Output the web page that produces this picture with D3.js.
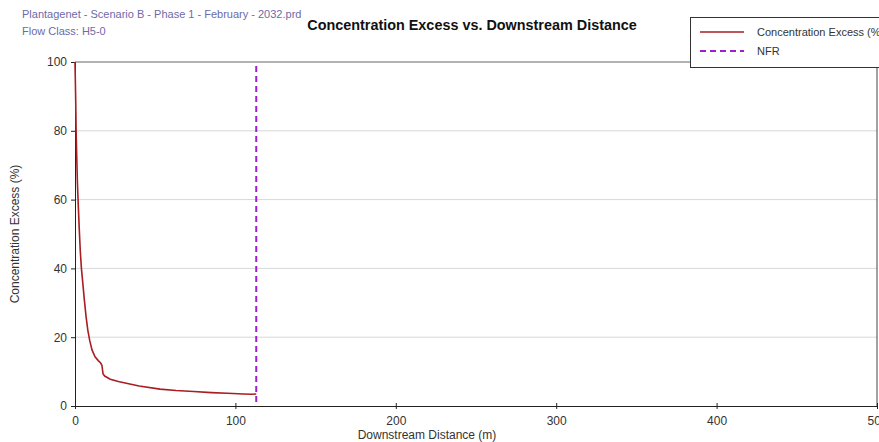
<!DOCTYPE html>
<html>
<head>
<meta charset="utf-8">
<script src="https://cdn.jsdelivr.net/npm/d3@7"></script>
<style>
  body { margin: 0; background: #fff; }
  svg { display: block; font-family: "Liberation Sans", Arial, sans-serif; }
</style>
</head>
<body>
<div id="chart"></div>
<script>
// curve: downstream distance (m) and concentration excess (%)
const distance = [0, 0.2, 0.4, 0.7, 1.0, 1.5, 1.9, 2.6, 3.3, 4.0, 4.8, 5.8, 6.9, 8.0, 9.2, 10.6,
  12.5, 14.5, 16.0, 16.8, 17.5, 18.5, 22, 27, 32, 40, 53, 63, 74, 85, 95, 105, 110, 113];
const excess = [100, 95, 90, 80, 74, 65, 60, 52, 45, 40, 36, 31, 26, 22, 19, 16.3,
  14.3, 13.2, 12.5, 11.8, 9.3, 8.7, 7.8, 7.1, 6.6, 5.8, 4.9, 4.5, 4.2, 3.9, 3.7, 3.5, 3.4, 3.5];
const nfr = 113;
const xTicks = [0, 100, 200, 300, 400, 500];
const yTicks = [0, 20, 40, 60, 80, 100];
const legendLabels = ["Concentration Excess (%)", "NFR"];

const W = 879, H = 442;
const margin = { top: 62, right: 2, bottom: 36, left: 75 };
const width = W - margin.left - margin.right,
  height = H - margin.top - margin.bottom;

const svg = d3.select("#chart").append("svg")
  .attr("width", W).attr("height", H);

const g = svg.append("g")
  .attr("transform", `translate(${margin.left},${margin.top})`);

const x = d3.scaleLinear().domain([0, 500]).range([0, width]);
const y = d3.scaleLinear().domain([0, 100]).range([height, 0]);

// grid lines
g.selectAll(".grid").data(yTicks.filter(d => d > 0 && d < 100)).enter()
  .append("line")
  .attr("x1", 0).attr("x2", width)
  .attr("y1", d => y(d)).attr("y2", d => y(d))
  .attr("stroke", "#d8d8d8");

// frame: top and right
g.append("line").attr("x1", 0).attr("x2", width).attr("y1", 0).attr("y2", 0)
  .attr("stroke", "#666");
g.append("line").attr("x1", width).attr("x2", width).attr("y1", 0).attr("y2", height)
  .attr("stroke", "#444");

// axes
const yAxis = g.append("g")
  .call(d3.axisLeft(y).tickValues(yTicks).tickSize(4).tickPadding(4));
const xAxis = g.append("g")
  .attr("transform", `translate(0,${height})`)
  .call(d3.axisBottom(x).tickValues(xTicks).tickSize(3).tickPadding(9));

[xAxis, yAxis].forEach(a => {
  a.select(".domain").attr("stroke", "#222");
  a.selectAll(".tick line").attr("stroke", "#222");
  a.selectAll(".tick text").attr("font-size", "12px").attr("fill", "#333")
    .attr("font-family", "Liberation Sans, Arial, sans-serif");
});
xAxis.selectAll(".tick line").attr("y1", -3);
xAxis.selectAll(".tick text").attr("dy", "0.55em");

// curve
const pts = distance.map((d, i) => [d, excess[i]]);
g.append("path")
  .datum(pts)
  .attr("fill", "none")
  .attr("stroke", "#a81e22")
  .attr("stroke-width", 1.6)
  .attr("d", d3.line().x(d => x(d[0])).y(d => y(d[1])));

// NFR line
g.append("line")
  .attr("x1", x(nfr)).attr("x2", x(nfr))
  .attr("y1", 4).attr("y2", height)
  .attr("stroke", "#9a1fd0")
  .attr("stroke-width", 2)
  .attr("stroke-dasharray", "6,4");

// titles
svg.append("text")
  .attr("x", 22).attr("y", 18)
  .attr("font-size", "11px").attr("fill", "#6e6aa8")
  .text("Plantagenet - Scenario B - Phase 1 - February - 2032.prd");
svg.append("text")
  .attr("x", 22).attr("y", 35)
  .attr("font-size", "11px").attr("fill", "#6e6aa8")
  .text("Flow Class: H5-0");
svg.append("text")
  .attr("x", 472).attr("y", 30)
  .attr("text-anchor", "middle")
  .attr("font-size", "14.4px").attr("font-weight", "bold").attr("fill", "#111")
  .text("Concentration Excess vs. Downstream Distance");

svg.append("text")
  .attr("x", 427).attr("y", 439)
  .attr("text-anchor", "middle")
  .attr("font-size", "12px").attr("fill", "#333")
  .text("Downstream Distance (m)");
svg.append("text")
  .attr("transform", `translate(19,${margin.top + height / 2}) rotate(-90)`)
  .attr("text-anchor", "middle")
  .attr("font-size", "12px").attr("fill", "#333")
  .text("Concentration Excess (%)");

// legend
const lg = svg.append("g").attr("transform", "translate(690,17)");
lg.append("rect")
  .attr("x", 0.5).attr("y", 0.5).attr("width", 200).attr("height", 50)
  .attr("fill", "#fff").attr("stroke", "#333");
lg.append("line").attr("x1", 10).attr("x2", 54).attr("y1", 15).attr("y2", 15)
  .attr("stroke", "#a81e22").attr("stroke-width", 1.6);
lg.append("line").attr("x1", 10).attr("x2", 54).attr("y1", 34).attr("y2", 34)
  .attr("stroke", "#9a1fd0").attr("stroke-width", 2).attr("stroke-dasharray", "6,4");
lg.selectAll(".lt").data(legendLabels).enter().append("text")
  .attr("x", 67).attr("y", (d, i) => 19 + i * 19)
  .attr("font-size", "11px").attr("fill", "#333")
  .text(d => d);
</script>
</body>
</html>
